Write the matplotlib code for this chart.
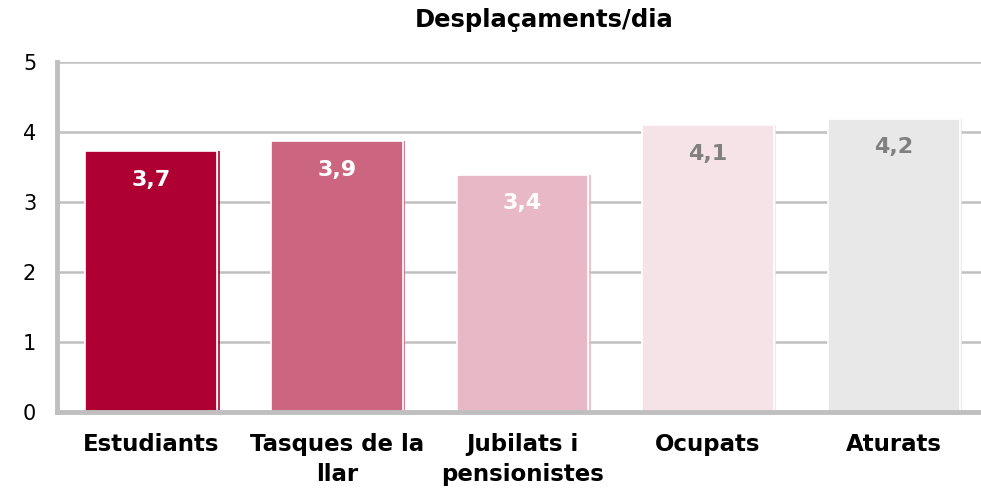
import matplotlib.pyplot as plt

# Dades: desplaçaments per dia segons situació
categories = ["Estudiants", "Tasques de la\nllar", "Jubilats i\npensionistes", "Ocupats", "Aturats"]
valors = [3.73, 3.87, 3.39, 4.10, 4.19]
colors = ["#AE0032", "#CC6680", "#E9B8C6", "#F6E3E7", "#E8E8E8"]
colors_text = ["white", "white", "white", "#808080", "#808080"]

plt.rcParams["font.family"] = ["DejaVu Sans"]

fig = plt.figure(figsize=(9.81, 4.88), dpi=100)
ax = fig.add_axes([0.0581, 0.1557, 0.9419, 0.7173])

x = list(range(len(categories)))
amplada = 0.71
ax.bar(x, valors, width=amplada, color=colors, edgecolor="white", linewidth=1.2, zorder=3)

# ombra fina a la dreta de cada barra
ax.vlines([i + amplada / 2 + 0.008 for i in x], 0, valors, colors=colors,
          linewidth=1.2, zorder=2)

# Etiquetes de valor dins de cada barra
for i, v in enumerate(valors):
    ax.text(i, v - 0.41, f"{v:.1f}".replace(".", ","), ha="center", va="center",
            fontsize=16, fontweight="bold", color=colors_text[i], zorder=4)

ax.set_ylim(0, 5)
ax.set_xlim(-0.507, 4.47)
ax.set_yticks([0, 1, 2, 3, 4, 5])
ax.set_xticks(x)
ax.set_xticklabels(categories, fontsize=16.5, fontweight="bold", linespacing=1.4)
ax.tick_params(axis="x", length=0, pad=15)
ax.tick_params(axis="y", length=0, pad=15, labelsize=15)

ax.grid(axis="y", color="#C0C0C0", linewidth=1.8, zorder=0)
ax.set_axisbelow(True)

for s in ["top", "right"]:
    ax.spines[s].set_visible(False)
ax.spines["left"].set_color("#BFBFBF")
ax.spines["left"].set_linewidth(3.5)
ax.spines["bottom"].set_color("#BFBFBF")
ax.spines["bottom"].set_linewidth(3.5)
ax.spines["bottom"].set_zorder(5)

fig.text(0.5545, 0.958, "Desplaçaments/dia", ha="center", va="center",
         fontsize=17.5, fontweight="bold")

fig.savefig("out.png", dpi=100)
